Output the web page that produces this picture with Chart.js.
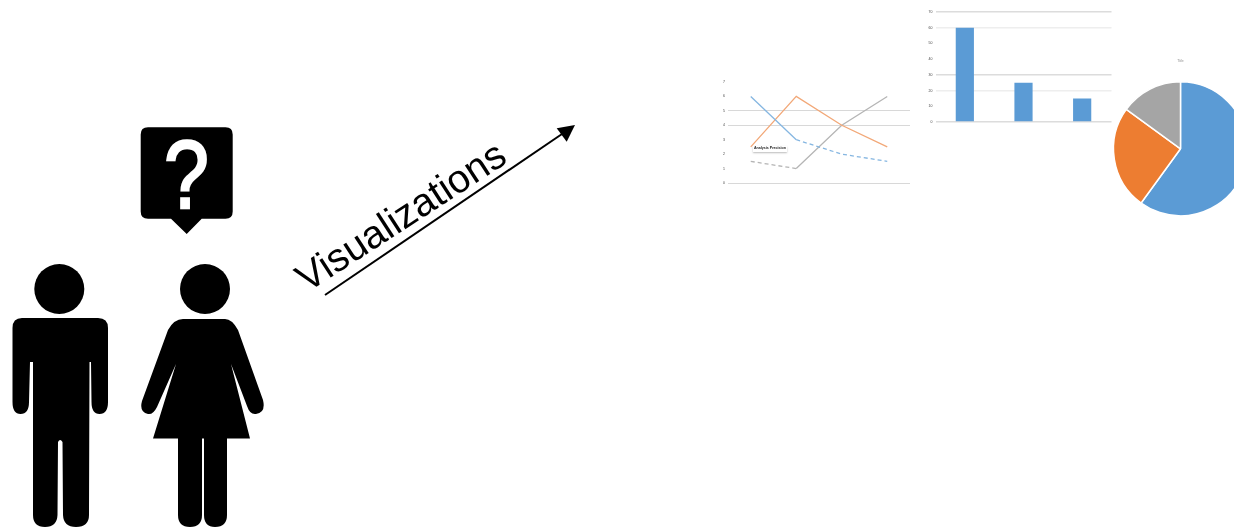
<!DOCTYPE html>
<html>
<head>
<meta charset="utf-8">
<title>Visualizations</title>
<script src="https://cdn.jsdelivr.net/npm/chart.js@4/dist/chart.umd.min.js"></script>
<style>
html, body { margin: 0; padding: 0; background: #fff; width: 1234px; height: 531px; overflow: hidden; }
canvas, svg, .chip { position: absolute; }
#art { left: 0; top: 0; opacity: 0.999; }
#figures { filter: blur(0.5px); }
#lineChart { left: 715px; top: 75px; filter: blur(0.5px); }
#barChart { left: 922px; top: 5px; filter: blur(0.6px); }
#pieChart { left: 1100px; top: 55px; filter: blur(0.4px); }
.chip { left: 753px; top: 146px; width: 34px; height: 6px; line-height: 6px; font: 3.6px "Liberation Sans", sans-serif; font-weight: bold;
  color: #222; background: #fff; text-align: center; white-space: nowrap; box-shadow: 0 1px 2px #bbb; filter: blur(0.4px); }
</style>
</head>
<body>
<svg id="art" width="1234" height="531" viewBox="0 0 1234 531">
  <g id="figures">
    <!-- man -->
    <circle cx="59.3" cy="289" r="25"/>
    <path d="M22,318 H98 Q108,318 108,328 V402 Q108,414 99.5,414 Q91.5,414 91.5,402 L91,362 H89.5 L89,515 Q89,527 76,527 Q63.5,527 63,515 L62.5,442 Q60,438 58,442 L57.5,515 Q57,527 45,527 Q33,527 33,515 L33,362 H30 L29,402 Q29,414 20.5,414 Q12.5,414 12.5,402 V328 Q12.5,318 22,318 Z"/>
    <!-- woman -->
    <circle cx="205" cy="289" r="25"/>
    <path d="M183,319 H225 Q232,319 238,330 L263,400 Q266,413 256,414 Q250,415 247,406 L231,364 L250,438.5 H227 V515 Q227,527 215,527 Q204,527 204,515 V438.5 H202 V515 Q202,527 190,527 Q178,527 178,515 V438.5 H153 L176,364 L157,407 Q153,415 148,414 Q139,412 142,401 L168,330 Q174,319 183,319 Z"/>
    <!-- speech bubble -->
    <path d="M148,127.3 H225.5 Q232.7,127.3 232.7,134.5 V211.5 Q232.7,218.7 225.5,218.7 H201.7 L186.7,234 L171,218.7 H148 Q140.7,218.7 140.7,211.5 V134.5 Q140.7,127.3 148,127.3 Z"/>
    <text transform="translate(186.5,207.5) scale(0.84,1)" text-anchor="middle" font-family="Liberation Sans" font-size="96" fill="#fff" stroke="#fff" stroke-width="2.5">?</text>
  </g>
  <!-- arrow -->
  <line x1="325" y1="295" x2="562" y2="134" stroke="#000" stroke-width="2"/>
  <path d="M575,125 L556.7,128.3 L566.7,141.7 Z"/>
  <text transform="translate(307,293) rotate(-33)" font-family="Liberation Sans" font-size="39.5" fill="#000">Visualizations</text>
</svg>

<canvas id="lineChart" width="200" height="118"></canvas>
<div class="chip">Analysis Precision</div>
<canvas id="barChart" width="200" height="125"></canvas>
<canvas id="pieChart" width="161" height="177"></canvas>

<script>
var lineCategories = ["1", "2", "3", "4"];
var lineBlue = [6, 3, 2, 1.5];
var lineOrange = [2.5, 6, 4, 2.5];
var lineGray = [1.5, 1, 4, 6];

var barCategories = ["A", "B", "C"];
var barValues = [60, 25, 15];

var pieLabels = ["A", "B", "C"];
var pieValues = [60, 25, 15];

Chart.defaults.animation = false;
Chart.defaults.devicePixelRatio = 1;
Chart.defaults.font.family = "Liberation Sans";

function fixWidth(w){ return function(scale){ scale.width = w; }; }
function fixHeight(h){ return function(scale){ scale.height = h; }; }

// dashed part of a line: from index "from" up to index "to"
function dashBetween(from, to){
    return { borderDash: function(ctx){ return (ctx.p0DataIndex >= from && ctx.p0DataIndex < to) ? [4, 3] : undefined; } };
}

new Chart(document.getElementById("lineChart"), {
    type: "line",
    data: {
        labels: lineCategories,
        datasets: [
            { label: "Blue", data: lineBlue, borderColor: "#85b6e1", segment: dashBetween(1, 3) },
            { label: "Orange", data: lineOrange, borderColor: "#f2a878" },
            { label: "Gray", data: lineGray, borderColor: "#b5b5b5", segment: dashBetween(0, 1) }
        ]
    },
    options: {
        responsive: false,
        layout: { padding: { top: 7, right: 5, left: 0, bottom: 0 } },
        elements: { point: { radius: 0 }, line: { borderWidth: 1.3, tension: 0 } },
        plugins: { legend: { display: false }, tooltip: { enabled: false } },
        scales: {
            x: {
                offset: true,
                afterFit: fixHeight(10),
                grid: { display: false },
                border: { display: false },
                ticks: { font: { size: 3.5 }, color: "#444", padding: 2, maxRotation: 0 }
            },
            y: {
                min: 0, max: 7,
                afterFit: fixWidth(13),
                border: { display: false },
                grid: {
                    drawTicks: false,
                    lineWidth: 1,
                    color: function(ctx){
                        var v = ctx.tick.value;
                        return (v === 0 || v === 4 || v === 5) ? "#d8d8d8" : "rgba(0,0,0,0)";
                    }
                },
                ticks: { stepSize: 1, font: { size: 3.5 }, color: "#444", padding: 3 }
            }
        }
    }
});

new Chart(document.getElementById("barChart"), {
    type: "bar",
    data: {
        labels: barCategories,
        datasets: [{ label: "Value", data: barValues, backgroundColor: "#5b9bd5", barPercentage: 0.31, categoryPercentage: 1 }]
    },
    options: {
        responsive: false,
        layout: { padding: { top: 7, right: 10.5, left: 0.5, bottom: 8 } },
        plugins: { legend: { display: false }, tooltip: { enabled: false } },
        scales: {
            x: {
                afterFit: fixHeight(0),
                grid: { display: false },
                border: { display: false },
                ticks: { display: false }
            },
            y: {
                min: 0, max: 70,
                afterFit: fixWidth(13),
                border: { display: false },
                grid: {
                    drawTicks: false,
                    lineWidth: 1.4,
                    color: function(ctx){
                        var v = ctx.tick.value;
                        if (v === 0 || v === 30 || v === 70) return "#dcdcdc";
                        if (v === 60 || v === 20) return "#eeeeee";
                        return "rgba(0,0,0,0)";
                    }
                },
                ticks: { stepSize: 10, font: { size: 3.5 }, color: "#444", padding: 3 }
            }
        }
    }
});

new Chart(document.getElementById("pieChart"), {
    type: "pie",
    data: {
        labels: pieLabels,
        datasets: [{ data: pieValues, backgroundColor: ["#5b9bd5", "#ed7d31", "#a5a5a5"], borderColor: "#fff", borderWidth: 1.5, radius: 67 }]
    },
    options: {
        responsive: false,
        plugins: {
            legend: { display: false },
            tooltip: { enabled: false },
            title: { display: true, text: "Title", color: "#aaa", font: { size: 3 }, padding: { top: 4, bottom: 3 } }
        }
    }
});
</script>
</body>
</html>
